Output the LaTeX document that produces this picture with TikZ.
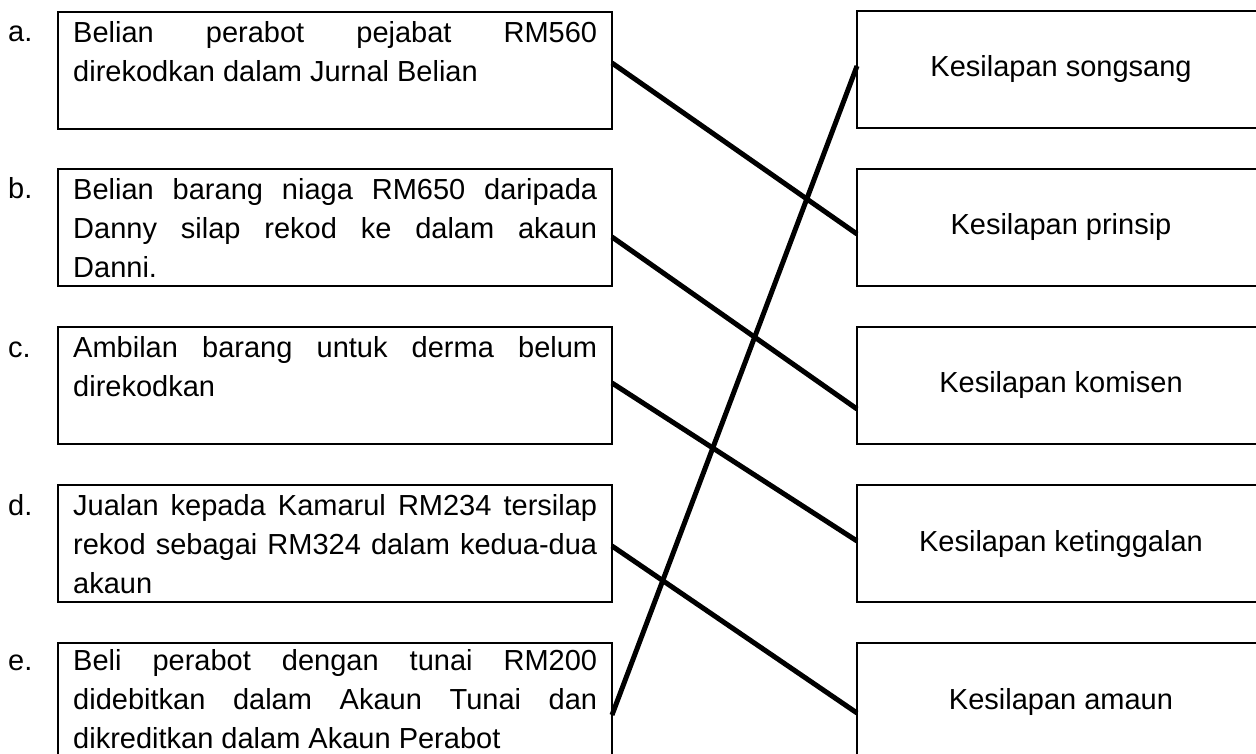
\documentclass[tikz,border=0pt]{standalone}
\usepackage{fontspec}
\setmainfont{Liberation Sans}
\usetikzlibrary{calc}
\tolerance=10000
\hbadness=10000
\hyphenpenalty=10000
\begin{document}
\begin{tikzpicture}[x=1pt,y=-1pt,
  box/.style={draw, line width=2pt, inner sep=0pt, outer sep=0pt, anchor=north west},
  lbox/.style={box, minimum width=554pt, minimum height=117pt},
  rbox/.style={box, minimum width=408pt, minimum height=117pt, font=\fontsize{29pt}{39pt}\selectfont},
  ltext/.style={anchor=north west, inner sep=0pt, text width=524pt, align=justify, font=\fontsize{29pt}{39pt}\selectfont},
  letter/.style={anchor=base west, inner sep=0pt, font=\fontsize{29pt}{39pt}\selectfont},
  link/.style={line width=5pt}]
\useasboundingbox (0,0) rectangle (1256,754);
\clip (0,0) rectangle (1256,754);
% left boxes
\node[lbox] (ba) at (58,12) {};
\node[lbox] (bb) at (58,169) {};
\node[lbox] (bc) at (58,327) {};
\node[lbox] (bd) at (58,485) {};
\node[lbox] (be) at (58,643) {};
% letters
\node[letter] (la) at (8,42) {a.};
\node[letter] (lb) at (8,199) {b.};
\node[letter] (lc) at (8,357) {c.};
\node[letter] (ld) at (8,515) {d.};
\node[letter] (le) at (8,670) {e.};
% texts
\node[ltext] (ta) at (73,21) {Belian perabot pejabat RM560\linebreak direkodkan dalam Jurnal Belian};
\node[ltext] (tb) at (73,178) {Belian barang niaga RM650 daripada\linebreak Danny silap rekod ke dalam akaun\linebreak Danni.};
\node[ltext] (tc) at (73,336) {Ambilan barang untuk derma belum\linebreak direkodkan};
\node[ltext] (td) at (73,494) {Jualan kepada Kamarul RM234 tersilap\linebreak rekod sebagai RM324 dalam kedua-dua\linebreak akaun};
\node[ltext] (te) at (73,649) {Beli perabot dengan tunai RM200\linebreak didebitkan dalam Akaun Tunai dan\linebreak dikreditkan dalam Akaun Perabot};
% right boxes
\node[rbox] (r1) at (857,11) {Kesilapan songsang};
\node[rbox] (r2) at (857,169) {Kesilapan prinsip};
\node[rbox] (r3) at (857,327) {Kesilapan komisen};
\node[rbox] (r4) at (857,485) {Kesilapan ketinggalan};
\node[rbox] (r5) at (857,643) {Kesilapan amaun};
% connectors
\draw[link] ([yshift=-51pt]ba.north east) -- ([yshift=-65pt]r2.north west);
\draw[link] ([yshift=-68pt]bb.north east) -- ([yshift=-82pt]r3.north west);
\draw[link] ([yshift=-56pt]bc.north east) -- ([yshift=-56pt]r4.north west);
\draw[link] ([yshift=-61pt]bd.north east) -- ([yshift=-70pt]r5.north west);
\draw[link] ([yshift=-72pt]be.north east) -- ([yshift=-55pt]r1.north west);
\end{tikzpicture}
\end{document}
